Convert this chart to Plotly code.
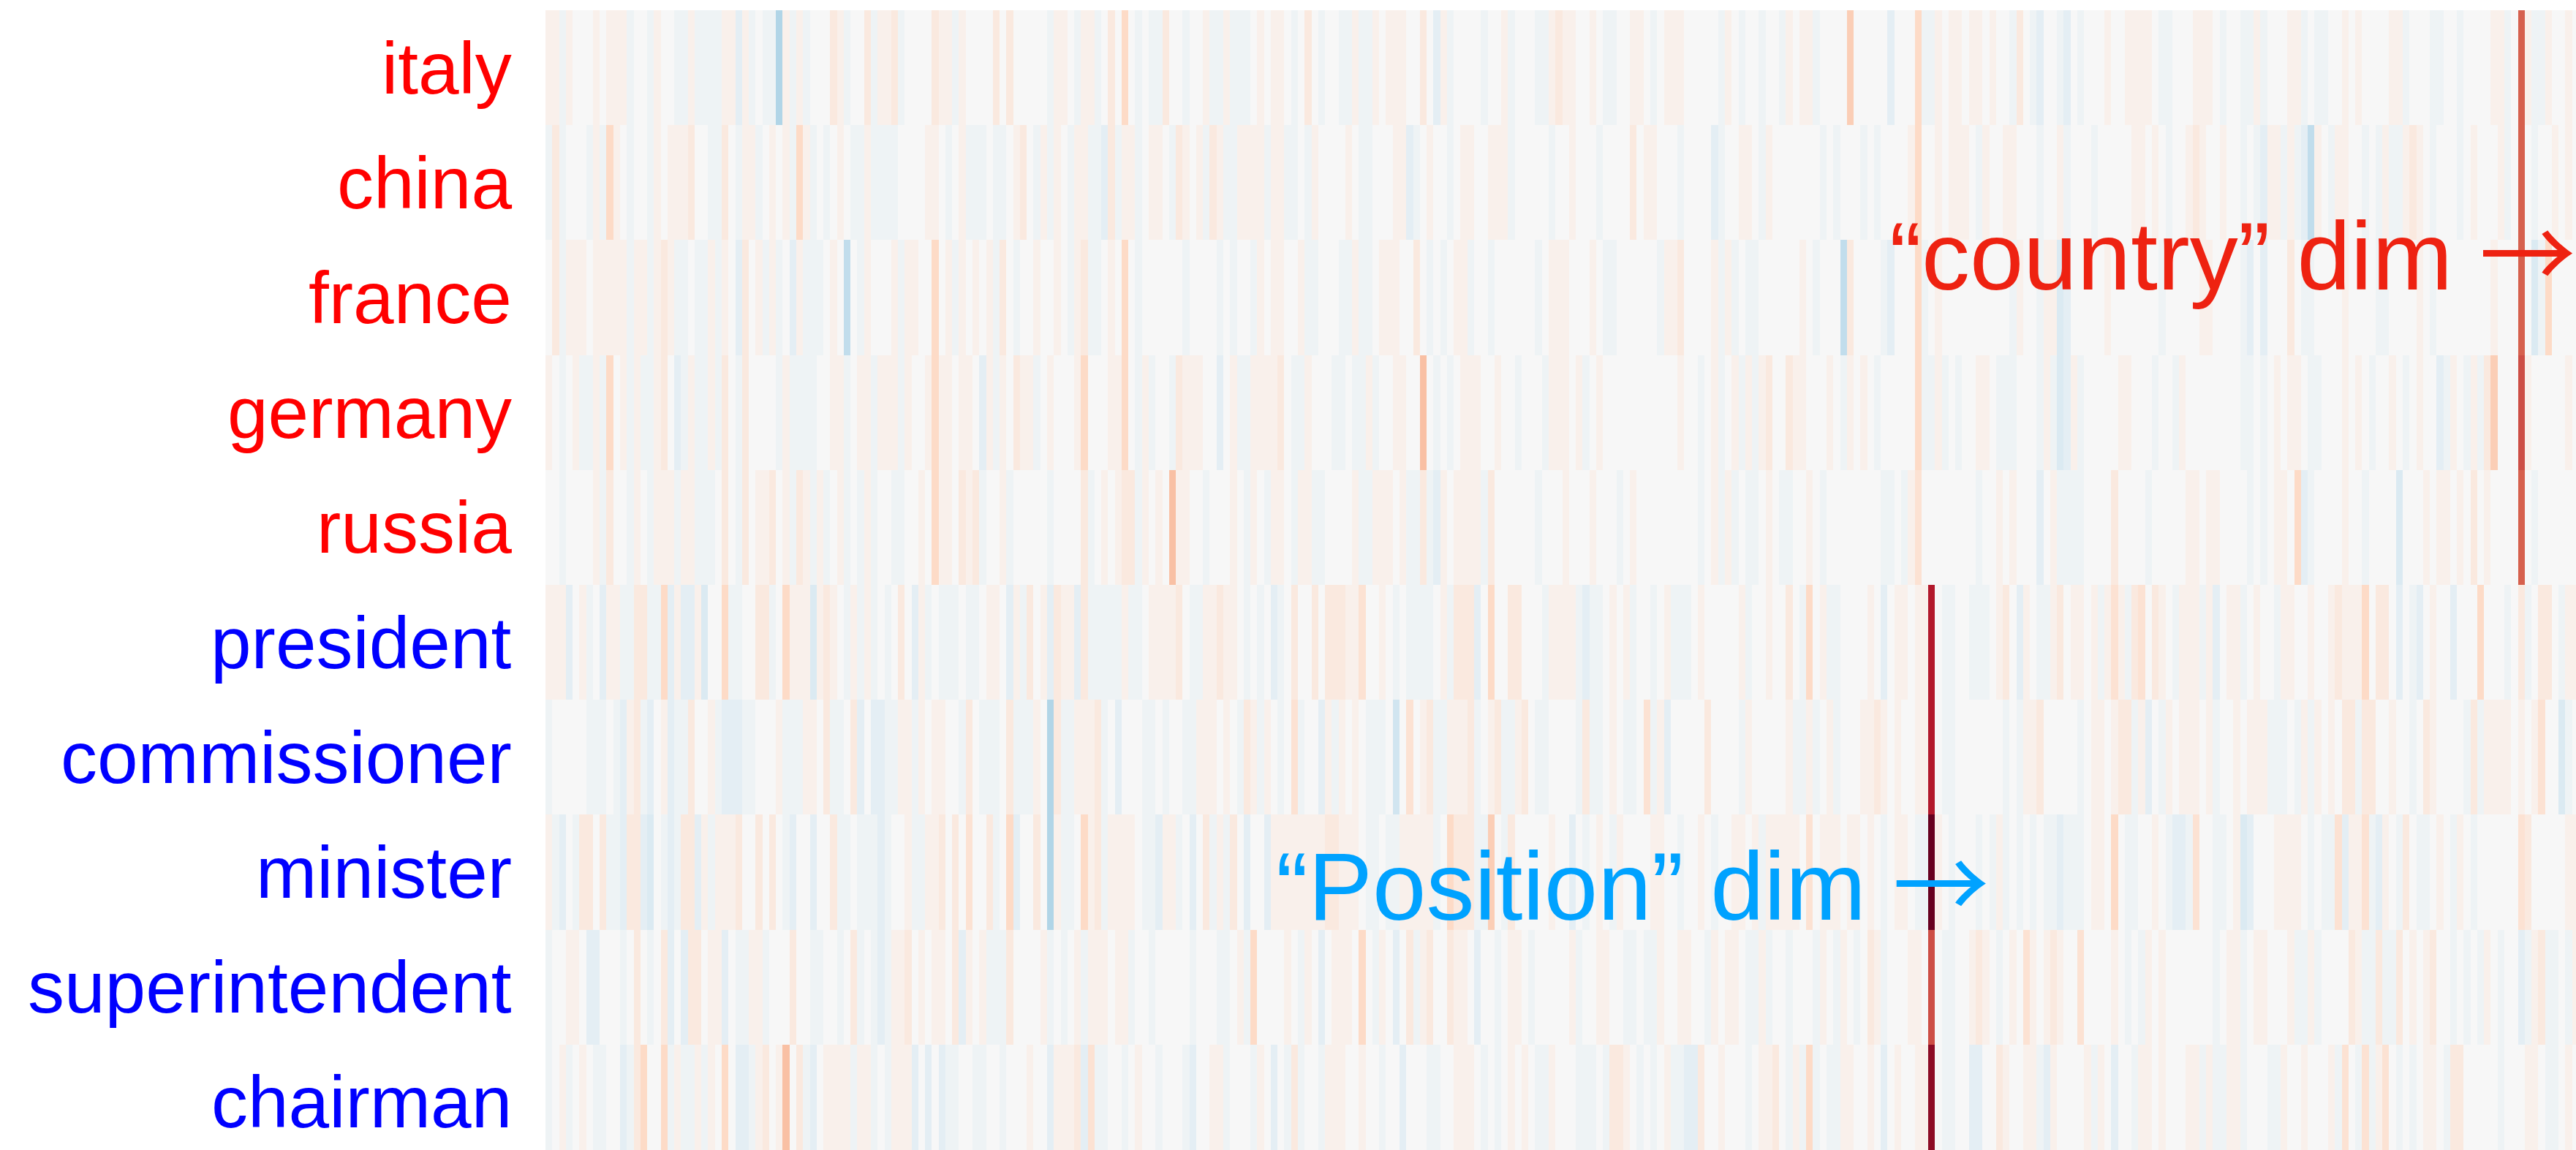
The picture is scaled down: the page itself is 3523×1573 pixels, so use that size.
import plotly.graph_objects as go

# ---------------- data ----------------
words = ["italy", "china", "france", "germany", "russia",
         "president", "commissioner", "minister", "superintendent", "chairman"]
word_colors = ["#ff0000"] * 5 + ["#0000ff"] * 5

# values in units of 0.05, 300 dims per word
italy = [1,1,-1,1,0,0,0,1,0,1, 1,1,-1,0,0,-1,1,0,0,-1, -1,1,-1,-1,-1,-1,1,1,-2,1, -1,0,-1,-1,-6,1,-1,1,-1,0, 0,0,2,1,-1,0,0,2,-1,1,
         1,2,-1,0,0,0,0,2,1,1, -1,1,0,0,0,0,2,0,2,0, 0,0,0,0,-1,1,1,0,-1,1, 1,-1,0,2,0,4,0,-1,0,-1, -1,2,0,0,-1,0,0,1,-1,-1,
         1,-1,-1,-1,0,1,0,1,1,0, -1,0,2,0,-1,0,0,-1,-1,1, -1,-1,1,0,1,1,1,0,0,2, 0,-2,1,-1,0,0,0,0,-1,0, 0,1,-1,0,0,0,-1,-1,1,2,
         1,1,0,0,1,0,-1,-1,0,0, 1,1,0,-1,0,1,1,1,0,0, 0,0,0,-1,1,0,-1,0,0,-1, 0,0,-1,1,0,1,1,-1,0,0, 0,0,5,0,0,0,0,0,-2,0,
         0,0,4,-1,-1,1,0,1,1,0, 1,1,0,1,0,0,-1,2,0,-1, -2,0,0,-1,-2,0,-1,0,0,0, 1,0,0,1,1,1,1,0,-1,-1, 0,0,0,1,1,1,0,-1,0,0,
         -1,-1,1,-1,0,0,0,1,1,-1, 0,-1,-1,0,0,1,0,1,0,0, 0,0,1,1,-1,0,0,0,-1,-1, 0,0,-1,0,0,0,0,1,1,-1, 0,12,1,-1,-1,1,0,0,1,0]
china = [-1,2,-1,0,0,0,-1,1,-1,4, 1,0,-1,0,0,-1,1,0,1,1, 1,2,0,0,-1,-1,2,0,-1,1, 1,-1,0,1,0,1,-1,4,1,-1, 0,-1,0,1,0,-1,-1,1,-1,-1,
         -1,-1,0,0,0,0,1,1,0,-1, 0,1,-1,-1,-1,0,-1,-1,0,1, 2,0,-1,1,-1,1,0,-1,1,1, -1,-1,-2,2,-1,1,1,-1,0,1, 1,0,-1,2,1,0,1,-1,2,1,
         -1,-1,1,1,1,1,-1,1,1,-1, -1,0,-1,1,0,0,0,0,1,0, -1,-1,0,0,0,1,1,-2,-1,0, 1,0,0,-1,0,1,1,0,0,1, 1,1,-1,0,0,0,0,0,-1,0,
         0,1,0,0,0,-1,0,0,0,0, 2,0,1,1,0,0,0,-1,0,0, 0,0,-2,-1,0,0,1,1,0,-1, 1,0,0,0,0,0,0,0,-1,0, -1,0,0,0,-1,0,-1,0,0,0,
         0,1,4,0,0,1,0,1,1,1, 0,-1,1,0,0,1,1,0,0,0, -1,0,0,1,-1,0,0,0,-1,0, 0,0,0,0,1,1,0,1,0,-1, 0,0,1,2,1,0,0,1,0,0,
         -1,0,-1,-2,1,1,-1,1,-1,-2, -5,1,0,-1,1,1,0,0,-1,0, -1,1,-1,-1,1,2,1,0,-1,0, 0,0,-1,0,1,0,0,0,1,-1, 0,12,0,-1,0,0,1,0,1,0]
france = [0,2,-1,1,1,1,0,1,1,1, 1,1,-1,1,1,-1,1,2,1,-1, -1,0,-1,-1,1,-1,1,0,-2,2, 0,1,-1,1,-1,0,-2,1,-1,-1, -1,0,1,0,-5,0,-1,1,0,0,
          0,1,-1,1,1,0,0,4,0,1, -1,1,0,1,0,1,-1,2,0,-1, 0,0,1,0,0,1,0,-1,1,2, -1,-1,0,1,0,4,0,-1,0,0, 0,0,0,0,-1,0,0,0,0,-1,
          0,-1,0,0,-1,1,0,1,1,0, 0,1,-1,-1,0,0,0,-1,-1,1, -1,-1,0,1,1,1,0,0,2,0, -1,0,-1,0,1,1,-1,0,0,-1, 0,0,0,0,0,0,-1,0,1,1,
          1,0,0,0,1,0,-1,-1,0,0, 0,0,0,0,-1,1,1,2,0,0, 0,0,1,-1,1,-1,0,-1,-1,0, 0,0,0,0,0,1,0,-1,0,0, 0,-5,2,0,0,0,0,-1,-2,0,
          0,0,4,-1,0,1,0,0,0,0, 0,0,0,0,0,0,-1,1,0,0, -1,1,1,-3,-2,0,0,0,0,0, 1,0,0,0,0,0,0,0,-1,0, 0,0,0,0,1,1,0,0,0,0,
          -1,-2,0,-2,0,0,0,2,0,-1, -1,0,0,0,0,1,0,0,0,0, -1,-1,0,0,0,0,1,0,-1,0, 0,0,0,0,0,0,0,1,0,0, 0,12,0,-3,-1,4,0,0,0,0]
germany = [1,0,-1,0,1,-1,-1,1,-1,4, 0,1,-1,1,-1,-1,1,2,0,-2, -1,1,-1,-1,1,-1,2,0,-1,2, 0,0,0,0,-1,1,-1,-1,-1,-1, 0,0,1,1,-1,0,1,1,-1,1,
           1,1,-1,1,0,0,1,4,1,1, 0,1,1,0,-2,1,-1,1,0,2, 1,1,-1,0,1,0,0,0,1,4, 0,0,0,1,1,4,0,-1,1,-1, 0,0,-1,2,1,1,1,0,0,-2,
           0,1,-1,-1,1,1,1,1,2,0, -1,-1,1,0,0,0,-1,-1,0,-1, -1,1,-1,0,0,1,1,0,0,6, 0,-1,0,-1,0,1,1,1,0,0, 1,0,0,-1,0,0,0,-1,1,1,
           1,0,1,-1,0,1,0,0,0,0, 0,0,0,0,0,0,0,1,0,0, -1,0,1,-1,0,1,-1,1,-1,1, 2,0,0,2,1,1,0,0,0,1, 0,-1,1,0,1,0,-1,0,0,0,
           0,0,4,-1,-1,1,-1,0,-1,0, 0,1,1,0,-1,-1,-1,0,0,0, -1,1,-1,-3,-2,1,-1,0,0,0, 0,0,1,1,0,0,0,-1,0,0, -1,1,0,0,0,0,0,0,0,0,
           -1,-1,0,-1,0,1,0,1,1,0, -1,-1,0,0,0,1,0,1,0,-1, 0,0,1,0,-1,0,1,0,0,-2, -1,1,0,-1,1,-1,2,5,0,0, 0,13,1,0,0,0,0,0,1,0]
russia = [0,0,-1,0,0,0,0,1,-1,2, 0,0,-1,1,0,-1,1,1,1,-1, 1,1,-1,-1,-1,0,2,0,-1,2, 0,1,1,2,0,1,-1,2,1,-1, 1,-1,0,1,-1,0,-1,1,-1,0,
          0,-1,-1,0,0,1,0,4,1,1, 0,2,1,2,-1,0,0,1,-1,0, 0,0,0,0,-1,0,0,0,0,2, -1,0,1,0,1,2,2,-1,1,0, 1,0,6,1,1,0,0,-1,0,0,
          0,1,0,-1,1,0,-1,1,1,0, -1,1,1,-1,-1,0,0,0,0,1, -1,-1,1,1,1,0,1,-1,-1,2, -1,-2,1,0,1,1,1,1,-1,2, 0,0,0,0,0,0,-1,0,0,0,
          1,0,0,0,1,0,0,0,-1,0, 1,0,0,0,0,0,0,0,0,0, -1,0,1,-1,1,-1,0,-1,-1,0, 1,0,-1,-1,0,0,1,0,-1,0, 0,0,0,0,0,0,0,-1,-1,0,
          -1,1,3,0,0,0,0,0,0,0, 0,-1,0,0,1,0,1,0,0,0, -2,0,1,-1,-1,-1,-1,0,0,0, 0,2,0,0,0,0,-1,0,0,0, 0,0,1,1,0,1,1,0,0,0,
          0,-1,0,-1,0,1,1,0,4,-2, -1,0,0,0,0,1,0,0,-1,0, 0,0,0,-3,0,0,0,1,0,1, 1,0,1,0,2,0,1,0,0,0, 0,12,0,-1,0,0,0,0,0,0]
president = [1,1,1,-2,0,1,-1,0,-2,1, 1,-1,-1,2,2,-1,-1,4,-2,1, -2,-2,1,-3,0,0,4,-1,-1,0, 0,2,2,-1,0,4,1,1,1,-3, 1,2,1,0,-1,1,-1,1,-1,0,
             -1,0,2,0,-2,1,-1,0,-1,-1, -1,0,-1,-1,0,1,1,0,-2,1, -1,2,0,1,-2,2,1,1,-2,2, -1,-1,-1,-1,-1,1,-1,-1,0,1, 1,1,1,2,0,-1,-1,1,1,2,
             1,1,0,-1,0,-1,0,-2,-1,0, 2,0,0,2,0,2,2,2,1,1, 3,0,0,1,0,-1,0,-1,-1,-1, -1,0,1,-1,2,2,2,-2,0,4, 0,0,2,2,0,0,0,-1,1,1,
             1,1,-1,-2,-1,-1,0,1,0,1, -1,0,0,-1,0,1,-1,-1,-1,0, 1,0,0,0,0,0,1,-1,0,0, 1,0,0,2,0,-1,4,0,1,-1, -1,0,0,0,0,1,0,-2,0,1,
             1,0,1,1,16,0,-1,-1,0,0, -1,-1,-1,0,1,2,0,-2,1,0, -1,-1,1,2,0,1,1,0,1,-1, 1,3,1,-1,2,3,0,2,1,0, -1,1,1,1,-1,1,-2,0,1,1,
             -1,0,1,0,0,-1,1,1,0,0, 1,0,0,1,2,1,1,1,4,0, 2,2,0,-2,0,-1,-2,0,1,0, 0,-2,0,0,0,4,0,0,0,-1, 0,2,-1,0,2,2,0,-1,1,1]
commissioner = [-1,0,0,0,0,0,-1,-1,-1,0, -1,-2,1,2,-1,-2,0,1,-2,-1, -1,2,0,0,1,-1,-2,-2,-2,-1, -1,0,0,0,1,-1,-1,-1,1,1, 0,2,-1,-1,0,2,-2,0,-2,-2,
                -1,-1,1,1,-1,1,0,1,1,0, 0,-1,2,0,-1,-1,-1,0,2,-1, -1,-1,1,0,-6,2,-1,-1,1,1, 1,2,-1,0,-2,0,0,0,-1,-1, 0,-1,0,0,-1,-1,1,1,1,0,
                1,0,-1,2,1,-1,1,0,-1,0, 3,-1,0,0,-2,1,-1,1,0,1, 0,-1,-1,-1,0,-4,0,3,0,1, 2,-1,-1,1,1,1,2,-1,0,1, 2,-1,-1,1,2,0,-1,-1,0,0,
                0,0,-1,2,-1,-1,0,1,0,-1, -1,0,3,-1,1,-2,0,0,0,0, 0,2,0,0,0,0,-1,1,0,0, 0,0,0,1,-1,-1,1,-1,0,1, -1,0,0,0,1,1,2,1,0,1,
                0,0,1,1,16,0,-1,-1,0,0, 0,0,0,0,0,-1,0,-1,1,1, 2,0,0,0,0,0,-1,0,1,1, 0,1,2,2,-1,1,-2,0,-1,1, 0,1,1,1,0,1,-1,0,0,1,
                0,1,1,1,-1,-1,-1,0,-1,1, -1,1,0,1,0,2,2,-1,2,2, 0,0,1,0,0,-1,0,2,1,0, 0,0,0,-1,2,-1,1,1,1,1, 0,1,0,1,3,0,0,-3,-1,0]
minister = [1,-1,-2,0,-1,2,2,0,2,-1, -1,-2,2,2,-2,-3,0,-1,-2,-1, 2,2,-2,1,-1,1,1,1,2,0, 0,2,0,2,0,-1,-2,0,0,-2, 0,0,2,-1,-1,0,-1,-1,-1,-2,
            -1,0,0,1,-1,-1,1,1,2,0, 2,0,3,0,0,2,-1,0,4,-2, 0,0,2,0,-6,1,-1,-1,0,4, 1,2,-1,1,1,1,1,0,-1,-1, -2,1,1,-1,0,-2,0,2,-1,1,
            -1,2,0,-2,0,0,-2,1,1,1, 1,1,1,1,1,2,2,1,1,1, 0,-1,-1,0,-1,-1,1,1,1,1, 1,-1,0,4,2,2,2,-1,-1,5, 0,-1,2,0,0,0,0,0,1,0,
            0,-2,0,-1,0,1,0,-1,1,0, 0,0,0,1,1,0,0,-1,0,0, 1,0,-1,0,0,1,1,0,1,-1, 1,1,1,1,1,0,3,0,1,1, 1,0,1,1,0,1,0,-1,0,1,
            1,0,-1,-1,20,1,0,-1,0,0, 0,-1,0,-1,1,-1,0,-1,0,-1, 0,-1,-1,-2,-1,-1,-1,0,1,1, 0,4,0,-1,-1,0,0,1,0,-1, -2,-2,-1,3,0,0,-1,-1,0,1,
            -3,-2,0,0,0,1,1,1,1,0, -1,0,-1,-1,3,-2,1,1,3,-1, -2,1,0,-1,2,0,-1,-1,0,1, 0,-1,1,0,-1,0,0,0,0,0, 0,3,2,0,0,0,0,0,1,1]
superintendent = [-1,0,0,1,1,0,-2,-2,0,0, 0,-1,0,2,0,-1,0,2,-2,0, -2,2,2,0,1,1,-2,0,-1,-1, 1,1,-1,0,0,0,2,0,0,-1, -1,0,0,-1,0,2,-1,0,-1,-2,
                  -1,1,1,2,0,1,0,1,1,0, 2,-2,1,0,1,-1,-1,-1,2,0, 0,0,0,1,-1,0,-1,0,1,-1, 1,1,1,0,1,1,-1,0,0,-1, 0,0,0,0,0,-1,0,0,0,-1,
                  -1,0,1,-1,4,0,0,0,0,1, 0,-1,1,0,-2,0,1,1,1,0, 4,0,-1,1,0,-2,0,2,-1,1, 2,0,0,2,1,1,0,-2,0,0, -1,0,1,1,0,-1,0,0,0,0,
                  0,1,-1,0,0,1,1,0,0,-1, -1,0,-1,-1,1,0,0,1,1,0, 0,-1,1,0,1,1,0,-1,-1,1, -1,0,0,-1,0,0,0,-1,1,0, -1,1,0,-1,0,2,1,-1,0,0,
                  0,1,1,0,13,0,-1,-1,0,0, 1,2,1,0,-1,0,1,0,3,1, 0,1,2,1,0,0,3,0,0,0, 0,1,0,-1,0,-1,1,0,1,0, 0,0,0,0,0,0,-1,0,1,1,
                  -1,0,1,1,0,0,0,1,-1,-1, 1,-1,0,0,0,0,2,1,-1,-1, 2,-1,-1,2,0,1,0,1,2,0, 0,-1,0,-1,0,-1,1,0,-1,0, 0,-2,-1,1,2,-1,-1,0,-1,1]
chairman = [-1,0,1,-1,0,1,0,-1,-1,0, 0,-2,-1,2,4,0,0,4,-1,1, -1,-1,1,-1,1,0,4,0,-2,-2, -1,1,2,0,1,6,0,2,-1,-2, 0,1,1,1,1,-1,1,1,-1,0,
            -1,1,1,1,-2,0,-2,0,-2,-1, -1,0,0,-1,-1,0,0,-1,0,0, 0,1,0,0,-2,1,1,1,2,-2, 3,-1,-1,0,0,-1,0,1,0,0, -1,0,0,0,-1,-2,0,0,1,1,
            -1,0,0,0,-1,1,0,-2,0,-1, 2,-1,0,0,-1,1,1,1,0,0, 1,0,0,-1,0,0,-2,0,0,0, -1,-1,0,0,1,1,1,0,-1,0, -1,0,1,0,1,0,-1,-1,1,0,
            0,0,-1,-1,-1,0,-1,2,2,1, 0,-1,0,-1,0,1,-1,-1,-2,-2, 2,0,0,1,0,0,0,-1,0,1, 1,2,0,-1,1,-1,4,-1,0,-1, -1,1,1,0,0,1,0,-2,0,1,
            0,0,1,1,18,0,-1,-1,0,0, -2,-2,0,0,2,1,0,0,1,1, -1,-2,1,0,0,0,0,1,-1,1, 0,-2,0,0,-1,1,1,0,1,0, 0,0,1,1,-1,1,-1,-1,1,1,
            -1,0,0,0,-1,-1,1,0,0,1, 0,0,0,1,-1,3,0,-1,3,-1, 1,3,0,-1,0,-1,0,1,1,0, -1,2,2,0,0,0,0,0,-1,0, 0,0,1,1,0,-1,-1,0,1,0]

rows = [italy, china, france, germany, russia,
        president, commissioner, minister, superintendent, chairman]
for name, r in zip(words, rows):
    if len(r) != 300:
        raise ValueError(f"{name} has {len(r)} values")

UNIT = 0.05
z = [[v * UNIT for v in r] for r in rows]
dims = list(range(300))
row_idx = list(range(len(words)))

# matplotlib RdBu_r
rdbu_r = [
    [0.0, "rgb(5,48,97)"], [0.1, "rgb(33,102,172)"], [0.2, "rgb(67,147,195)"],
    [0.3, "rgb(146,197,222)"], [0.4, "rgb(209,229,240)"], [0.5, "rgb(247,247,247)"],
    [0.6, "rgb(253,219,199)"], [0.7, "rgb(244,165,130)"], [0.8, "rgb(214,96,77)"],
    [0.9, "rgb(178,24,43)"], [1.0, "rgb(103,0,31)"],
]

W, H = 3523, 1573
L, T = 746, 14
COL_W, ROW_H = 9.27, 157.2

fig = go.Figure(go.Heatmap(
    z=z, x=dims, y=row_idx, colorscale=rdbu_r, zmin=-1, zmax=1,
    showscale=False, hoverinfo="skip", xgap=0, ygap=0,
))

FONT = "Liberation Sans, Arial, Helvetica, sans-serif"
ARROW = '<span style="font-family:Noto Sans CJK JP">\u2192</span>'
annotations = []
for i, (w, c) in enumerate(zip(words, word_colors)):
    annotations.append(dict(
        x=0, xref="paper", y=i, yref="y", text=w, showarrow=False,
        xanchor="right", yanchor="middle", xshift=-44,
        font=dict(family=FONT, size=100, color=c),
    ))
annotations.append(dict(
    x=197.6, xref="x", y=1.565, yref="y", text="\u201ccountry\u201d dim " + ARROW,
    showarrow=False, xanchor="left", yanchor="middle",
    font=dict(family=FONT, size=132, color="#EE2211"),
))
annotations.append(dict(
    x=107.0, xref="x", y=7.045, yref="y", text="\u201cPosition\u201d dim " + ARROW,
    showarrow=False, xanchor="left", yanchor="middle",
    font=dict(family=FONT, size=132, color="#00A2FF"),
))

fig.update_layout(
    width=W, height=H,
    margin=dict(l=L, r=0, t=T, b=0, pad=0, autoexpand=False),
    paper_bgcolor="white", plot_bgcolor="white",
    xaxis=dict(range=[-0.5, -0.5 + (W - L) / COL_W], visible=False,
               showgrid=False, zeroline=False),
    yaxis=dict(range=[-0.5 + (H - T) / ROW_H, -0.5], visible=False,
               showgrid=False, zeroline=False),
    annotations=annotations,
    showlegend=False,
)

fig.write_html("out.html", config={"displayModeBar": False},
               post_script="document.body.style.margin='0';document.body.style.overflow='hidden';")
